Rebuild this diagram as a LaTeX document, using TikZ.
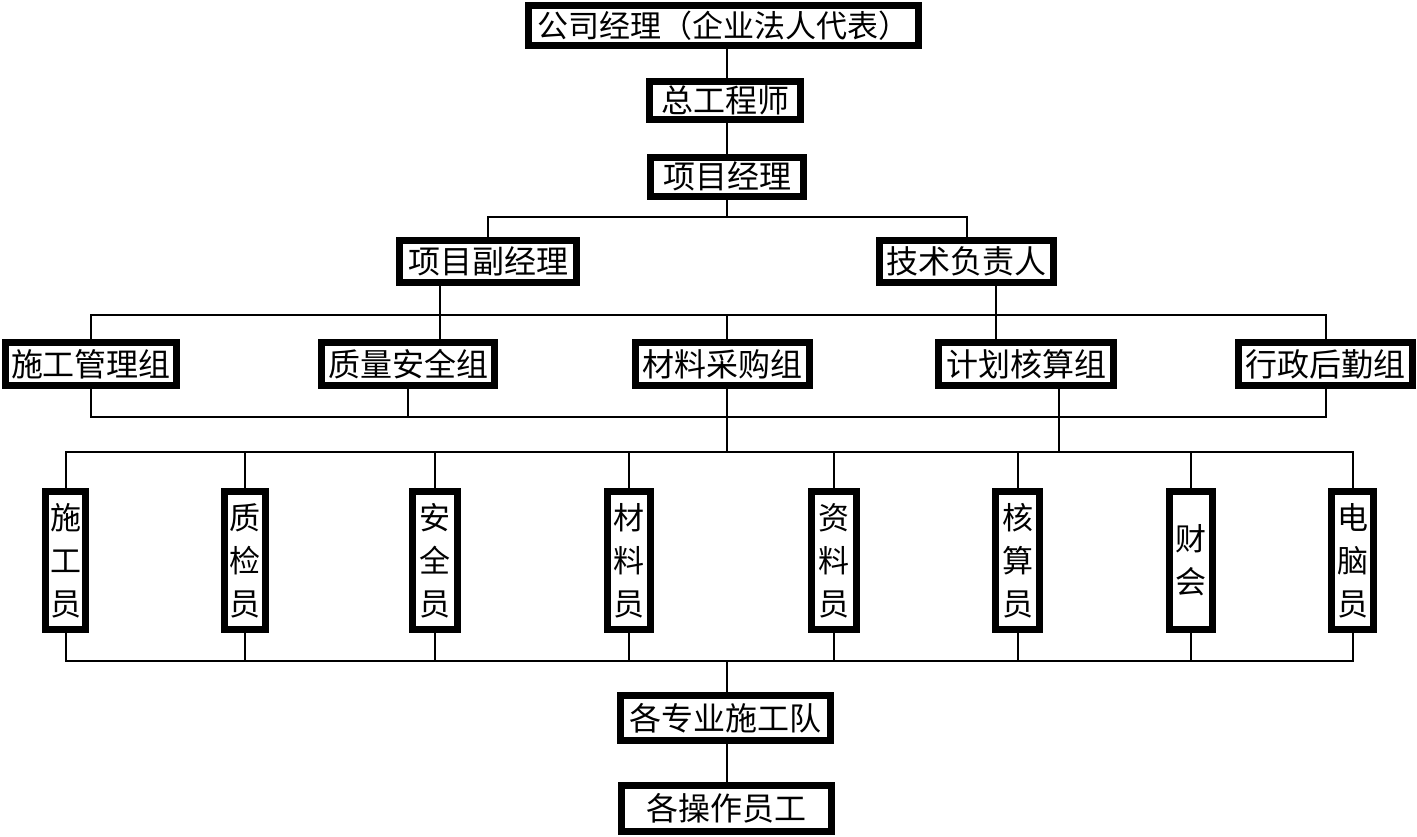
\documentclass[tikz,border=0pt]{standalone}
\usepackage{fontspec}
\newfontfamily\cjk{Noto Sans CJK SC}
\usetikzlibrary{calc}
\begin{document}
\begin{tikzpicture}[x=1pt,y=-1pt,
  bx/.style 2 args={draw, line width=7pt, inner sep=0pt, fill=white,
    minimum width=#1pt-7pt, minimum height=#2pt-7pt,
    font=\cjk\fontsize{32}{43}\selectfont, align=center},
  sb/.style={bx={#1}{145}, font=\cjk\fontsize{31}{43}\selectfont},
  ln/.style={line width=2pt}]
\useasboundingbox (0,0) rectangle (1417,836);
% top chain
\node[bx={397}{47}, font=\cjk\fontsize{31}{43}\selectfont] (gs) at (723.5,25.5) {公司经理（企业法人代表）};
\node[bx={158}{45}] (zgc) at (725,100) {总工程师};
\node[bx={160}{46}] (xm) at (727,176.5) {项目经理};
\node[bx={184}{49}] (fj) at (488,261.5) {项目副经理};
\node[bx={181}{49}] (js) at (966.5,261.5) {技术负责人};
% groups
\node[bx={178}{50}] (sg) at (91,364) {施工管理组};
\node[bx={180}{50}] (zl) at (408,364) {质量安全组};
\node[bx={181}{50}] (cl) at (722.5,364) {材料采购组};
\node[bx={182}{50}] (jh) at (1026,364) {计划核算组};
\node[bx={181}{50}] (hz) at (1325.5,364) {行政后勤组};
% staff
\node[sb=47] (s1) at (65.5,560.5) {施\\工\\员};
\node[sb=48] (s2) at (245,560.5) {质\\检\\员};
\node[sb=52] (s3) at (435,560.5) {安\\全\\员};
\node[sb=50] (s4) at (629,560.5) {材\\料\\员};
\node[sb=52] (s5) at (834,560.5) {资\\料\\员};
\node[sb=51] (s6) at (1017.5,560.5) {核\\算\\员};
\node[sb=50] (s7) at (1191,560.5) {财\\会};
\node[sb=49] (s8) at (1352.5,560.5) {电\\脑\\员};
% bottom
\node[bx={217}{52}] (zy) at (725.5,718) {各专业施工队};
\node[bx={217}{53}] (cz) at (726.5,808.5) {各操作员工};
% coordinates
\coordinate (axis) at (727,0);
\coordinate (b1) at (727,217);
\coordinate (c1) at (440,315);
\coordinate (c2) at (996,315);
\coordinate (b3) at (0,417);
\coordinate (c3) at (1059,0);
\coordinate (b4) at (0,452);
\coordinate (b5) at (0,661);
% connectors
\draw[ln] (gs.south -| axis) -- (zgc.north -| axis);
\draw[ln] (zgc.south -| axis) -- (xm.north -| axis);
\draw[ln] (xm.south -| axis) -- (b1);
\draw[ln] (fj.north) |- (b1) -| (js.north);
\draw[ln] (sg.north) |- (hz.north |- c1) -- (hz.north);
\draw[ln] (fj.south -| c1) -- (zl.north -| c1);
\draw[ln] (js.south -| c2) -- (jh.north -| c2);
\draw[ln] (cl.north -| axis) -- (axis |- c1);
\draw[ln] (sg.south) |- (hz.south |- b3) -- (hz.south);
\draw[ln] (zl.south) -- (zl.south |- b3);
\draw[ln] (cl.south -| axis) -- (axis |- b4);
\draw[ln] (jh.south -| c3) -- (c3 |- b4);
\draw[ln] (s1.north) |- (s8.north |- b4) -- (s8.north);
\draw[ln] (s1.south) |- (s8.south |- b5) -- (s8.south);
\foreach \s in {s2,s3,s4,s5,s6,s7} {
  \draw[ln] (\s.north) -- (\s.north |- b4);
  \draw[ln] (\s.south) -- (\s.south |- b5);
}
\draw[ln] (axis |- b5) -- (zy.north -| axis);
\draw[ln] (zy.south -| axis) -- (cz.north -| axis);
\end{tikzpicture}
\end{document}
